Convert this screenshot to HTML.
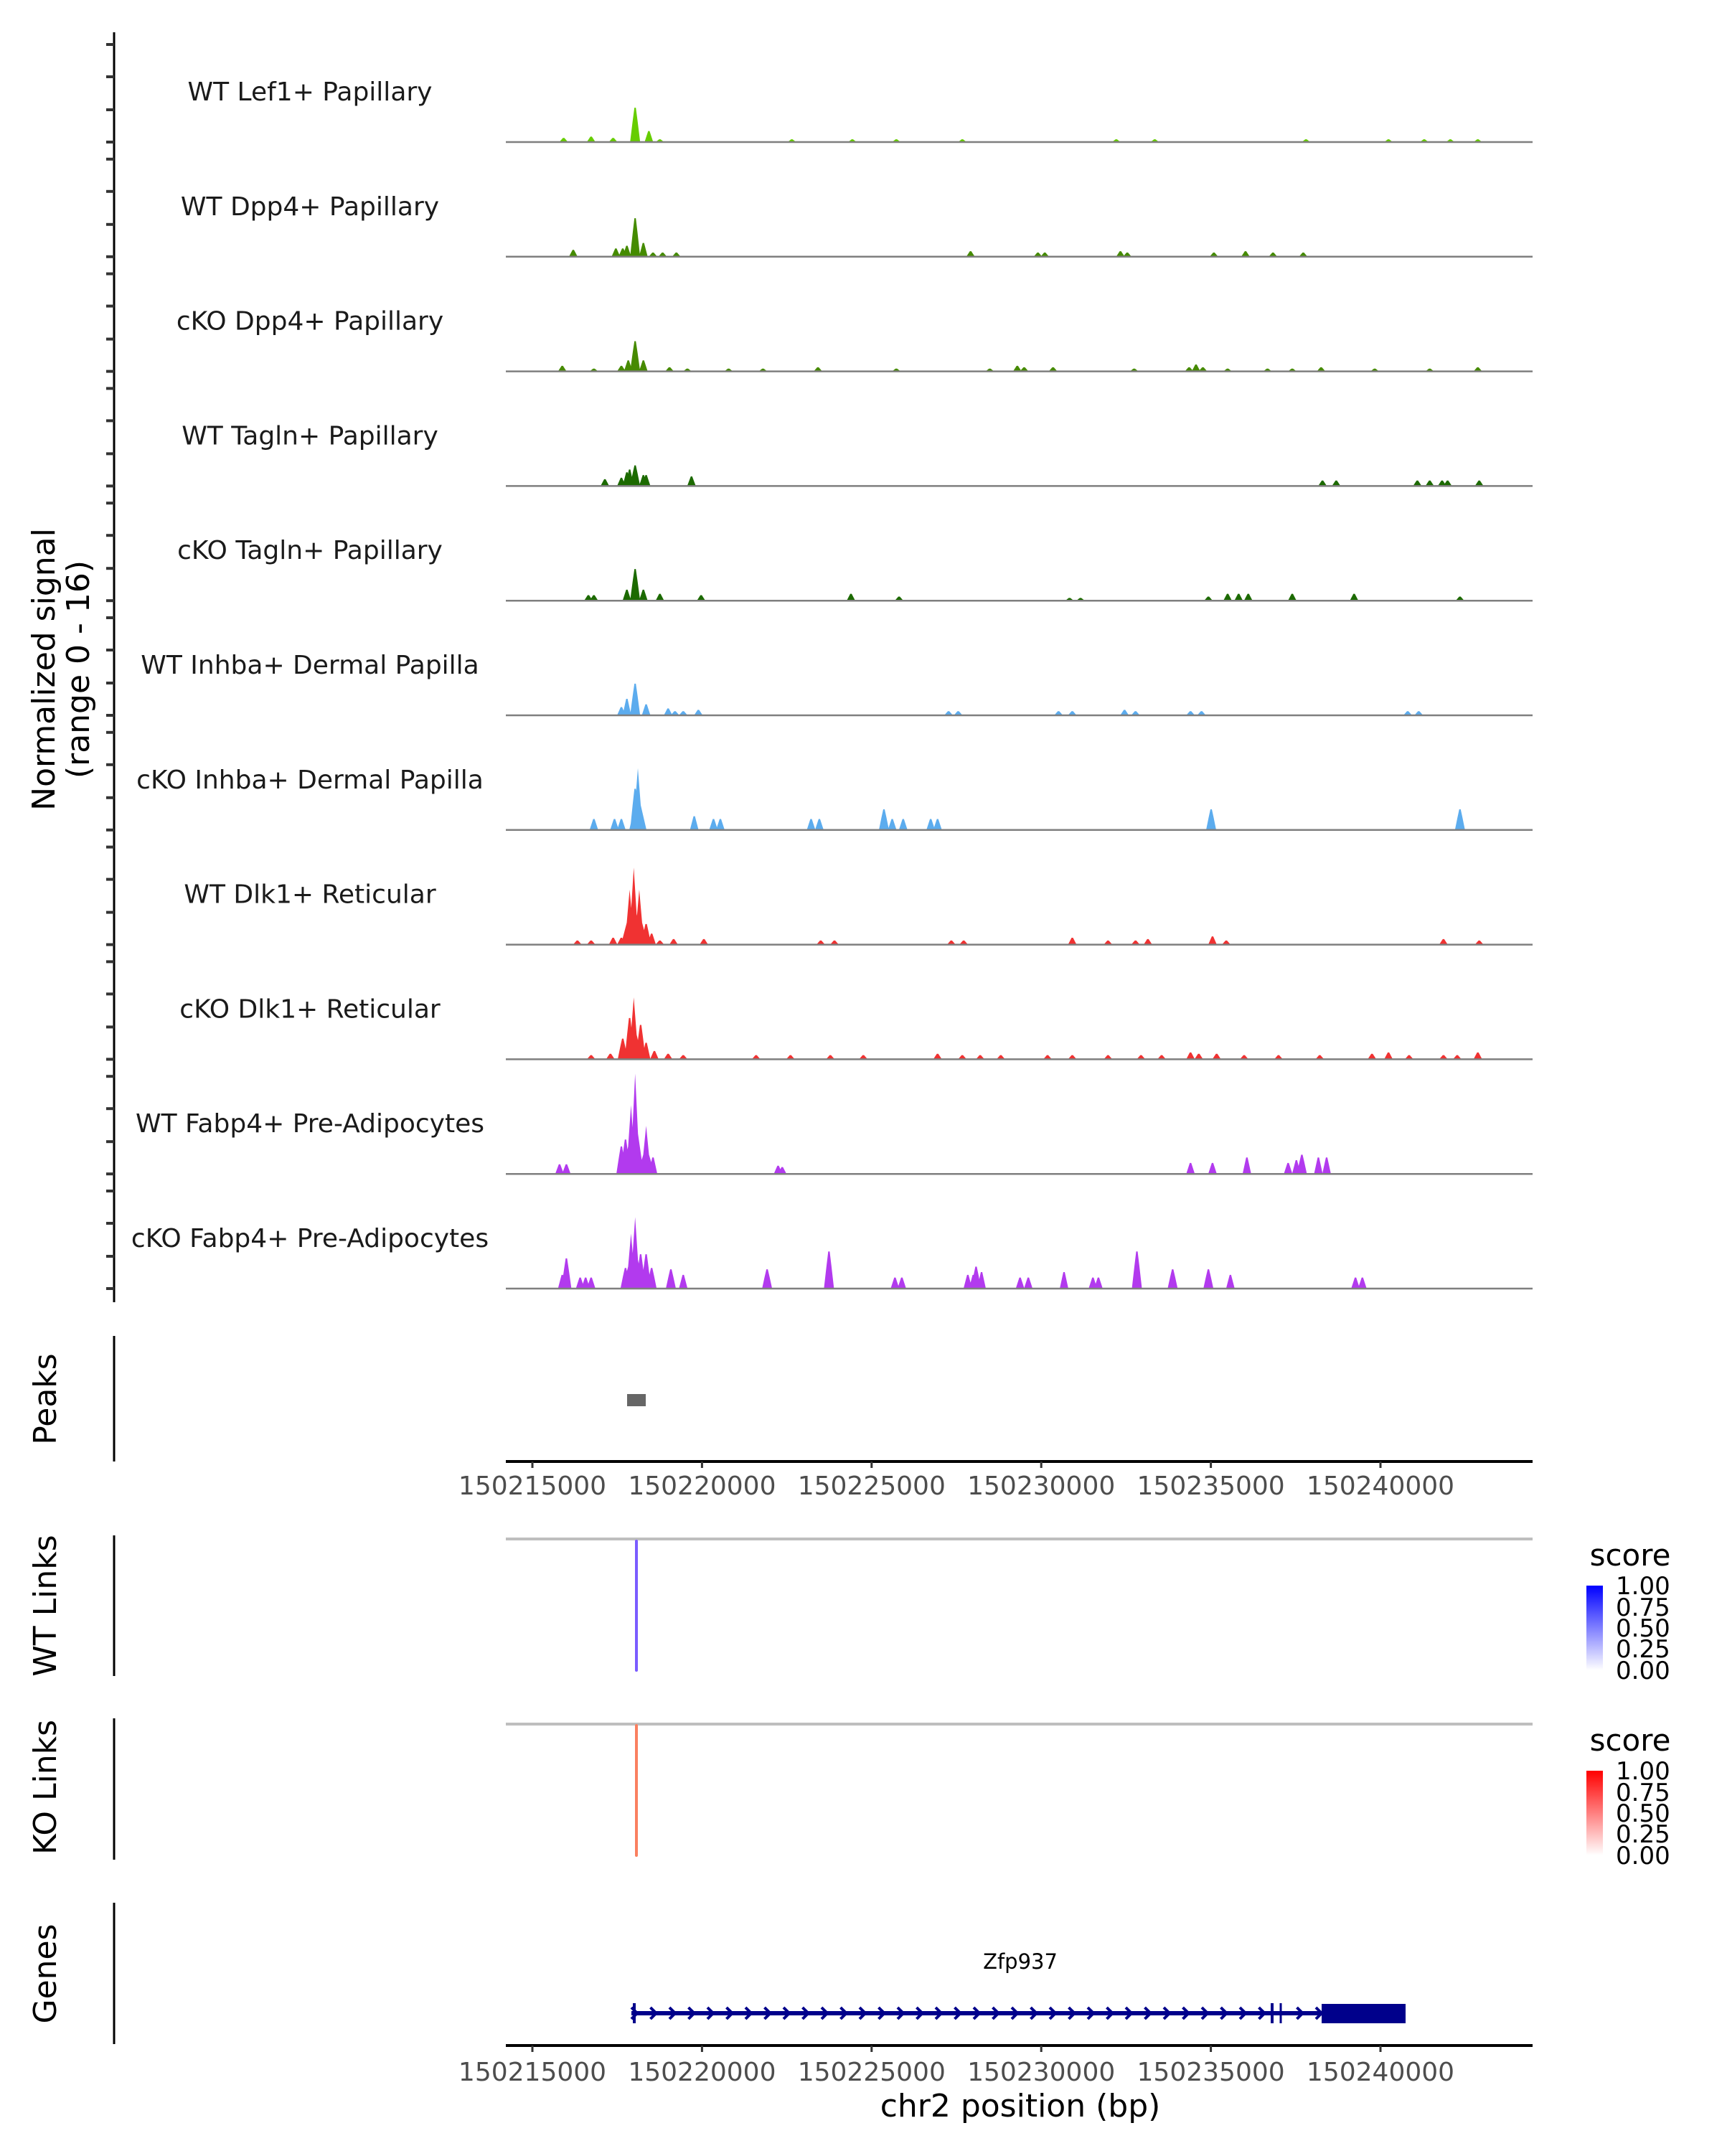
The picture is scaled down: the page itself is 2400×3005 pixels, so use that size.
<!DOCTYPE html>
<html><head><meta charset="utf-8"><style>
html,body{margin:0;padding:0;background:#fff;}
svg text{font-family:"DejaVu Sans","Liberation Sans",sans-serif;}
</style></head><body>
<svg id="s" width="2400" height="3000" xmlns="http://www.w3.org/2000/svg">
<defs>
<linearGradient id="gb" x1="0" y1="0" x2="0" y2="1"><stop offset="0" stop-color="#0000ff"/><stop offset="1" stop-color="#ffffff"/></linearGradient>
<linearGradient id="gr" x1="0" y1="0" x2="0" y2="1"><stop offset="0" stop-color="#ff0000"/><stop offset="1" stop-color="#ffffff"/></linearGradient>
</defs>
<rect width="2400" height="3000" fill="#fff"/>
<g id="tracks"></g>
<line x1="159" y1="45" x2="159" y2="1815" stroke="#000" stroke-width="3"/>
<g id="ticks"></g>
<text transform="translate(76,933) rotate(-90)" font-size="44" text-anchor="middle" fill="#000">Normalized signal</text>
<text transform="translate(124,933) rotate(-90)" font-size="44" text-anchor="middle" fill="#000">(range 0 - 16)</text>
<line x1="159" y1="1862" x2="159" y2="2037" stroke="#000" stroke-width="3"/>
<text transform="translate(78,1950) rotate(-90)" font-size="44" text-anchor="middle">Peaks</text>
<rect x="874" y="1943" width="26" height="17" fill="#666"/>
<line x1="705" y1="2037" x2="2136" y2="2037" stroke="#000" stroke-width="4"/>
<g id="ax1" font-size="36" fill="#4d4d4d" text-anchor="middle"></g>
<line x1="159" y1="2140" x2="159" y2="2336" stroke="#000" stroke-width="3"/>
<text transform="translate(78,2238) rotate(-90)" font-size="44" text-anchor="middle">WT Links</text>
<line x1="705" y1="2145" x2="2136" y2="2145" stroke="#bebebe" stroke-width="4"/>
<line x1="887" y1="2148" x2="887" y2="2328" stroke="#7a5cff" stroke-width="4" stroke-linecap="round"/>
<text x="2272" y="2182" font-size="42" text-anchor="middle">score</text>
<rect x="2211" y="2210" width="23" height="118" fill="url(#gb)"/>
<g font-size="34" fill="#000">
<text x="2252" y="2222">1.00</text><text x="2252" y="2252">0.75</text><text x="2252" y="2281">0.50</text><text x="2252" y="2310">0.25</text><text x="2252" y="2340">0.00</text>
</g>
<line x1="159" y1="2395" x2="159" y2="2592" stroke="#000" stroke-width="3"/>
<text transform="translate(78,2491) rotate(-90)" font-size="44" text-anchor="middle">KO Links</text>
<line x1="705" y1="2403" x2="2136" y2="2403" stroke="#bebebe" stroke-width="4"/>
<line x1="887" y1="2405" x2="887" y2="2586" stroke="#fa8060" stroke-width="4" stroke-linecap="round"/>
<text x="2272" y="2440" font-size="42" text-anchor="middle">score</text>
<rect x="2211" y="2468" width="23" height="118" fill="url(#gr)"/>
<g font-size="34" fill="#000">
<text x="2252" y="2480">1.00</text><text x="2252" y="2510">0.75</text><text x="2252" y="2539">0.50</text><text x="2252" y="2568">0.25</text><text x="2252" y="2598">0.00</text>
</g>
<line x1="159" y1="2652" x2="159" y2="2849" stroke="#000" stroke-width="3"/>
<text transform="translate(78,2751) rotate(-90)" font-size="44" text-anchor="middle">Genes</text>
<text x="1422" y="2744" font-size="29" text-anchor="middle">Zfp937</text>
<line x1="880" y1="2806" x2="1959" y2="2806" stroke="#00008b" stroke-width="6"/>
<rect x="1842" y="2793" width="117" height="27" fill="#00008b"/>
<g id="chev" stroke="#00008b" stroke-width="4" fill="none"></g>
<line x1="884" y1="2792" x2="884" y2="2820" stroke="#00008b" stroke-width="4"/>
<line x1="1773" y1="2792" x2="1773" y2="2820" stroke="#00008b" stroke-width="4"/>
<line x1="1785" y1="2792" x2="1785" y2="2820" stroke="#00008b" stroke-width="3"/>
<line x1="705" y1="2851" x2="2136" y2="2851" stroke="#000" stroke-width="4"/>
<g id="ax2" font-size="36" fill="#4d4d4d" text-anchor="middle"></g>
<text x="1422" y="2950" font-size="44" text-anchor="middle">chr2 position (bp)</text>
</svg>
<script>
var NS="http://www.w3.org/2000/svg";
function el(p,t,a,txt){var e=document.createElementNS(NS,t);for(var k in a)e.setAttribute(k,a[k]);if(txt!==undefined)e.textContent=txt;p.appendChild(e);return e;}
var S=1.916;
var names=["WT Lef1+ Papillary","WT Dpp4+ Papillary","cKO Dpp4+ Papillary","WT Tagln+ Papillary","cKO Tagln+ Papillary","WT Inhba+ Dermal Papilla","cKO Inhba+ Dermal Papilla","WT Dlk1+ Reticular","cKO Dlk1+ Reticular","WT Fabp4+ Pre-Adipocytes","cKO Fabp4+ Pre-Adipocytes"];
var cols=["#66cd00","#458b00","#468a00","#1c6a00","#1c6a00","#5cacee","#5cacee","#f03232","#f03232","#b23aee","#b23aee"];
var peaks=[
[[462,25],[472,8],[430,4],[410,3],[446,3],[480,2],[576,2],[620,2],[652,2],[700,2],[812,2],[840,2],[950,2],[1010,2],[1036,2],[1055,2],[1075,2]],
[[462,28],[456,8],[468,10],[417,5],[448,6],[453,6],[475,3],[482,3],[492,3],[706,4],[755,3],[760,3],[815,4],[820,3],[883,3],[906,4],[926,3],[948,3]],
[[462,22],[457,8],[468,8],[409,4],[432,2],[452,4],[487,3],[500,2],[530,2],[555,2],[595,3],[652,2],[720,2],[740,4],[745,3],[766,3],[825,2],[865,3],[870,5],[875,3],[893,2],[922,2],[940,2],[961,3],[1000,2],[1040,2],[1075,3]],
[[462,15],[456,10],[458,12],[440,5],[452,6],[468,8],[470,8],[503,7],[962,4],[972,4],[1031,4],[1040,4],[1049,4],[1053,4],[1076,4]],
[[462,23],[456,8],[468,8],[428,4],[432,4],[480,5],[510,4],[619,5],[654,3],[778,2],[786,2],[879,3],[893,5],[901,5],[908,5],[940,5],[985,5],[1062,3]],
[[462,23],[456,12],[470,8],[452,6],[486,5],[491,3],[497,3],[508,4],[690,3],[697,3],[770,3],[780,3],[818,4],[826,3],[866,3],[874,3],[1024,3],[1032,3]],
[[464,45],[462,30],[432,8],[447,8],[452,8],[505,10],[519,8],[524,8],[590,8],[596,8],[643,15],[649,8],[657,8],[677,8],[682,8],[881,15],[1062,15]],
[[461,56],[458,40],[465,40],[470,15],[474,8],[420,3],[430,3],[446,5],[452,5],[480,3],[490,4],[512,4],[597,3],[607,3],[692,3],[701,3],[780,5],[806,3],[826,3],[835,4],[882,6],[892,3],[1050,4],[1076,3]],
[[461,45],[458,30],[453,15],[466,25],[470,12],[476,6],[444,4],[430,3],[486,4],[497,3],[550,3],[575,3],[604,3],[628,3],[682,4],[700,3],[713,3],[728,3],[762,3],[780,3],[806,3],[830,3],[845,3],[866,5],[872,4],[885,4],[905,3],[930,3],[960,3],[998,4],[1010,5],[1025,3],[1050,3],[1060,3],[1075,5]],
[[462,73],[459,50],[455,25],[452,20],[470,35],[475,12],[407,7],[412,7],[566,6],[569,5],[866,8],[882,8],[907,12],[937,8],[943,10],[947,14],[959,12],[965,12]],
[[462,52],[459,40],[455,15],[466,25],[470,25],[474,15],[409,10],[412,22],[422,8],[426,8],[430,8],[488,14],[497,10],[558,14],[603,27],[651,8],[656,8],[704,10],[708,10],[710,16],[714,12],[742,8],[748,8],[774,12],[795,8],[799,8],[827,27],[853,14],[879,14],[895,10],[986,8],[991,8]]
];
var tg=document.getElementById("tracks"),tk=document.getElementById("ticks");
for(var k=0;k<11;k++){
 var B=198+159.8*k;
 el(tg,"text",{x:432,y:B-58,"font-size":36,"text-anchor":"middle",fill:"#1a1a1a"},names[k]);
 var d="";
 peaks[k].forEach(function(p){var x=p[0]*S,h=Math.max(p[1]*S,3);var big=h>60;var w=big?24:(h>25?14:12);
  if(big) d+="M"+(x-w/2)+","+B+"L"+(x-w/6)+","+(B-h*0.4)+"L"+x+","+(B-h)+"L"+(x+w/6)+","+(B-h*0.4)+"L"+(x+w/2)+","+B+"Z";
  else d+="M"+(x-w/2)+","+B+"L"+(x-w/4)+","+(B-h*0.6)+"L"+(x-1)+","+(B-h)+"L"+(x+1)+","+(B-h)+"L"+(x+w/4)+","+(B-h*0.6)+"L"+(x+w/2)+","+B+"Z";});
 el(tg,"path",{d:d,fill:cols[k]});
 el(tg,"line",{x1:705,y1:B,x2:2136,y2:B,stroke:"#7f7f7f","stroke-width":2.5});
 [136,91,45,0].forEach(function(o){el(tk,"line",{x1:148,y1:B-o,x2:159,y2:B-o,stroke:"#333","stroke-width":4});});
}
var a1=document.getElementById("ax1"),a2=document.getElementById("ax2");
for(var i=0;i<6;i++){var x=742+236.4*i,lab=String(150215000+5000*i);
 [[a1,2037,2083],[a2,2851,2900]].forEach(function(q){el(q[0],"line",{x1:x,y1:q[1],x2:x,y2:q[1]+9,stroke:"#333","stroke-width":3});el(q[0],"text",{x:x,y:q[2]},lab);});}
var cg=document.getElementById("chev");
for(var x=884;x<1842;x+=26.5){ if(x>1765&&x<1792)continue; el(cg,"polyline",{points:(x-4)+",2798 "+(x+4)+",2806 "+(x-4)+",2814"});}
</script>
</body></html>
